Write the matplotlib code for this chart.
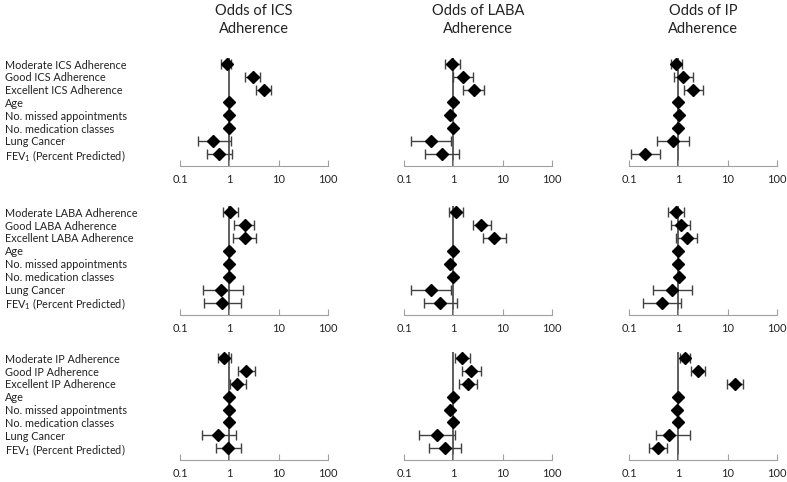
import matplotlib.pyplot as plt
import numpy as np

plt.rcParams['font.family'] = ['Lato', 'DejaVu Sans']
plt.rcParams['mathtext.fontset'] = 'custom'
plt.rcParams['mathtext.rm'] = 'Lato'
plt.rcParams['mathtext.it'] = 'Lato:italic'

drugs = ['ICS', 'LABA', 'IP']
outcomes = ['Odds of ICS\nAdherence', 'Odds of LABA\nAdherence', 'Odds of IP\nAdherence']
covariates = ['Age', 'No. missed appointments', 'No. medication classes',
              'Lung Cancer', 'FEV$_1$ (Percent Predicted)']
ticks = [0.1, 1, 10, 100]
tick_labels = ['0.1', '1', '10', '100']

# odds ratios, lower and upper CI; one list per outcome column
# rows of the figure: ICS adherence model, LABA adherence model, IP adherence model
or_ics_model = [[0.89, 3.0, 5.1, 1.0, 0.98, 1.0, 0.47, 0.62],
                [0.95, 1.6, 2.6, 1.0, 0.84, 0.97, 0.36, 0.59],
                [0.89, 1.26, 2.0, 1.0, 1.03, 0.98, 0.78, 0.21]]
lo_ics_model = [[0.67, 2.1, 3.4, 0.98, 0.96, 0.98, 0.23, 0.35],
                [0.69, 0.99, 1.6, 0.98, 0.82, 0.95, 0.14, 0.27],
                [0.70, 0.83, 1.3, 0.98, 1.0, 0.96, 0.37, 0.11]]
hi_ics_model = [[1.08, 4.1, 7.0, 1.02, 1.0, 1.02, 1.08, 1.12],
                [1.34, 2.5, 4.2, 1.02, 0.86, 0.99, 0.91, 1.28],
                [1.2, 1.96, 3.2, 1.02, 1.06, 1.0, 1.63, 0.43]]

or_laba_model = [[1.05, 2.08, 2.1, 1.0, 0.97, 1.0, 0.68, 0.72],
                 [1.11, 3.7, 6.8, 1.0, 0.84, 0.97, 0.36, 0.54],
                 [0.9, 1.12, 1.48, 1.0, 0.98, 1.02, 0.76, 0.47]]
lo_laba_model = [[0.73, 1.26, 1.17, 0.98, 0.95, 0.98, 0.29, 0.30],
                 [0.83, 2.46, 4.06, 0.98, 0.82, 0.95, 0.14, 0.25],
                 [0.62, 0.71, 0.89, 0.98, 0.96, 1.0, 0.30, 0.19]]
hi_laba_model = [[1.52, 3.1, 3.4, 1.02, 0.99, 1.02, 1.9, 1.73],
                 [1.54, 5.7, 11.5, 1.02, 0.86, 0.99, 0.91, 1.17],
                 [1.32, 1.76, 2.4, 1.02, 1.0, 1.04, 1.87, 1.12]]

or_ip_model = [[0.79, 2.2, 1.45, 1.0, 0.98, 0.99, 0.59, 0.94],
               [1.5, 2.24, 1.99, 1.0, 0.84, 1.0, 0.47, 0.68],
               [1.39, 2.46, 13.9, 1.0, 0.92, 1.0, 0.64, 0.38]]
lo_ip_model = [[0.60, 1.5, 1.01, 0.98, 0.96, 0.97, 0.28, 0.53],
               [1.06, 1.5, 1.32, 0.98, 0.82, 0.98, 0.20, 0.32],
               [1.1, 1.78, 9.85, 0.98, 0.9, 0.98, 0.36, 0.25]]
hi_ip_model = [[1.06, 3.3, 2.14, 1.02, 1.0, 1.01, 1.34, 1.75],
               [2.14, 3.6, 3.07, 1.02, 0.86, 1.02, 1.1, 1.43],
               [1.72, 3.46, 20.2, 1.02, 0.94, 1.02, 1.72, 0.60]]

ors = [or_ics_model, or_laba_model, or_ip_model]
los = [lo_ics_model, lo_laba_model, lo_ip_model]
his = [hi_ics_model, hi_laba_model, hi_ip_model]

W, H = 787, 482
fig = plt.figure(figsize=(W / 100, H / 100), dpi=100)

col_left = [180, 404, 629]
col_width = 148
row_top = [57.6, 205.6, 352.0]
row_bottom = [166, 315, 460]

for r in range(3):
    labels = ['Moderate %s Adherence' % drugs[r], 'Good %s Adherence' % drugs[r],
              'Excellent %s Adherence' % drugs[r]] + covariates
    ypos = np.arange(len(labels))
    for c in range(3):
        ax = fig.add_axes([col_left[c] / W, 1 - row_bottom[r] / H,
                           col_width / W, (row_bottom[r] - row_top[r]) / H])
        val = np.array(ors[r][c])
        lo = np.array(los[r][c])
        hi = np.array(his[r][c])
        ax.axvline(1, color='#333333', lw=1.1, zorder=1)
        ax.errorbar(val, ypos, xerr=[val - lo, hi - val], fmt='none',
                    ecolor='#404040', elinewidth=1.0, capsize=3.5, capthick=1.0, zorder=2)
        ax.plot(val, ypos, 'D', color='black', ms=6, zorder=3)
        ax.set_xscale('log')
        ax.set_xlim(0.1, 100)
        ax.set_ylim(7.95, -0.5)
        ax.set_xticks(ticks)
        ax.set_xticklabels(tick_labels)
        ax.minorticks_off()
        ax.tick_params(axis='x', direction='in', length=4, color='#a0a0a0',
                       labelsize=8, pad=6, labelcolor='#222222')
        for s in ['top', 'right', 'left']:
            ax.spines[s].set_visible(False)
        ax.spines['bottom'].set_color('#a0a0a0')
        if c == 0:
            ax.set_yticks(ypos)
            ax.set_yticklabels(labels, ha='left', fontsize=7.8, color='#222222')
            ax.tick_params(axis='y', length=0, pad=(col_left[0] - 5) * 0.72)
        else:
            ax.set_yticks([])
        if r == 0:
            fig.text((col_left[c] + col_width / 2) / W, 1 - 20 / H, outcomes[c],
                     ha='center', va='center', multialignment='center',
                     fontsize=10.5, color='#222222', linespacing=1.45)

fig.savefig('out.png', dpi=100)
